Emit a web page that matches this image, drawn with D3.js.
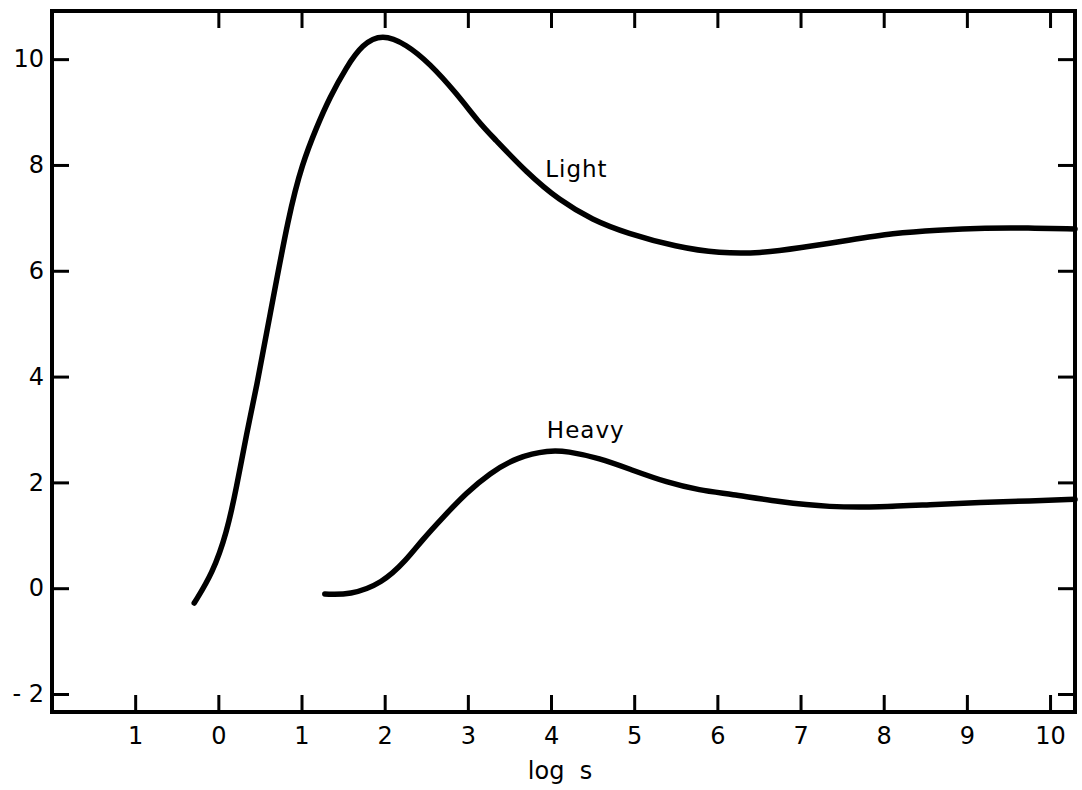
<html>
<head>
<script src="https://d3js.org/d3.v7.min.js"></script>
<style>
  body { margin: 0; background: white; }
  text { font-family: "DejaVu Sans", sans-serif; fill: black; }
  .curve { fill: none; stroke: black; stroke-width: 5.5px; stroke-linecap: round; }
  .frame { fill: none; stroke: black; stroke-width: 4px; }
  .tick line { stroke: black; stroke-width: 3px; }
  .tick text { font-size: 24px; }
</style>
</head>
<body>
<svg id="chart" width="1082" height="790"></svg>
<script>
// values
const lightX = [-0.29, -0.07, 0.10, 0.22, 0.34, 0.46, 0.61, 0.85, 1.01, 1.18, 1.34, 1.54, 1.73, 1.97, 2.26, 2.54, 2.86, 3.14, 3.30, 3.71, 4.10, 4.50, 4.91, 5.51, 6.03, 6.51, 6.99, 7.59, 8.11, 8.64, 9.24, 9.72, 10.30];
const lightY = [-0.28, 0.28, 1.04, 1.91, 2.93, 3.80, 5.07, 7.09, 8.03, 8.71, 9.28, 9.85, 10.28, 10.48, 10.28, 9.92, 9.36, 8.79, 8.53, 7.85, 7.33, 6.96, 6.71, 6.45, 6.33, 6.33, 6.43, 6.58, 6.71, 6.77, 6.81, 6.81, 6.79];
const heavyX = [1.28, 1.58, 1.97, 2.26, 2.45, 2.70, 2.98, 3.26, 3.59, 3.98, 4.19, 4.58, 4.98, 5.39, 5.79, 6.15, 6.75, 7.35, 7.95, 8.56, 9.16, 9.76, 10.30];
const heavyY = [-0.11, -0.13, 0.09, 0.53, 0.91, 1.34, 1.80, 2.17, 2.48, 2.61, 2.59, 2.46, 2.23, 2.00, 1.85, 1.78, 1.63, 1.53, 1.53, 1.58, 1.62, 1.65, 1.68];

const xTicks = [-1, 0, 1, 2, 3, 4, 5, 6, 7, 8, 9, 10];
const xTickLabels = ["1", "0", "1", "2", "3", "4", "5", "6", "7", "8", "9", "10"];
const yTicks = [-2, 0, 2, 4, 6, 8, 10];
const yTickLabels = ["- 2", "0", "2", "4", "6", "8", "10"];

const curveNames = ["Light", "Heavy"];
const curveLabelX = [3.93, 3.95];
const curveLabelY = [7.77, 2.84];

const svg = d3.select("#chart");

const x = d3.scaleLinear().domain([-2, 10.3]).range([52, 1075]);
const y = d3.scaleLinear().domain([-2.34, 10.91]).range([712, 11]);

// ticks all point inward
svg.append("g")
    .attr("transform", `translate(0,${y.range()[0]})`)
    .call(d3.axisBottom(x).tickValues(xTicks).tickSize(-17).tickPadding(15)
        .tickFormat((d, i) => xTickLabels[i]))
    .call(g => g.select(".domain").remove());

svg.append("g")
    .attr("transform", `translate(0,${y.range()[1]})`)
    .call(d3.axisTop(x).tickValues(xTicks.slice(1)).tickSize(-17).tickFormat(""))
    .call(g => g.select(".domain").remove());

svg.append("g")
    .attr("transform", `translate(${x.range()[0]},0)`)
    .call(d3.axisLeft(y).tickValues(yTicks).tickSize(-17).tickPadding(8)
        .tickFormat((d, i) => yTickLabels[i]))
    .call(g => g.select(".domain").remove())
    .selectAll("text").style("white-space", "pre");

svg.append("g")
    .attr("transform", `translate(${x.range()[1]},0)`)
    .call(d3.axisRight(y).tickValues(yTicks).tickSize(-17).tickFormat(""))
    .call(g => g.select(".domain").remove());

svg.append("rect")
    .attr("class", "frame")
    .attr("x", x.range()[0])
    .attr("y", y.range()[1])
    .attr("width", x.range()[1] - x.range()[0])
    .attr("height", y.range()[0] - y.range()[1]);

const line = d3.line()
    .x(d => x(d[0]))
    .y(d => y(d[1]))
    .curve(d3.curveBasis);

svg.append("path").attr("class", "curve")
    .datum(d3.zip(lightX, lightY))
    .attr("d", line);

svg.append("path").attr("class", "curve")
    .datum(d3.zip(heavyX, heavyY))
    .attr("d", line);

svg.selectAll("text.name").data(curveNames)
    .join("text")
    .attr("class", "name")
    .attr("x", (d, i) => x(curveLabelX[i]))
    .attr("y", (d, i) => y(curveLabelY[i]))
    .style("font-size", "23px")
    .style("letter-spacing", "1px")
    .text(d => d);

svg.append("text")
    .attr("x", 560)
    .attr("y", 779)
    .attr("text-anchor", "middle")
    .style("font-size", "24px")
    .style("white-space", "pre")
    .text("log  s");
</script>
</body>
</html>
